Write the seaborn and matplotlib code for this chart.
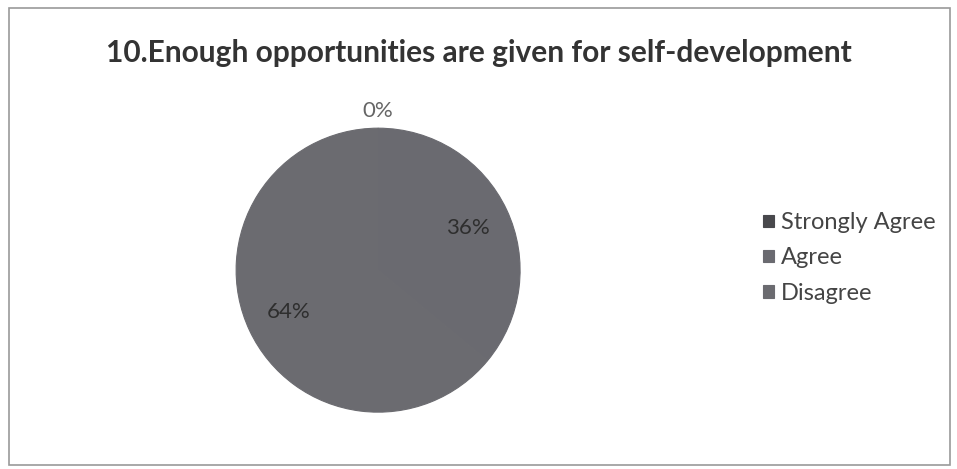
import matplotlib
matplotlib.use('Agg')
import matplotlib.pyplot as plt
import seaborn as sns
from matplotlib.patches import Rectangle
import numpy as np

# data
categories = ['Strongly Agree', 'Agree', 'Disagree']
percent = [0, 36, 64]
colors = ['#48484c', '#6a6a70', '#6b6b70']
title = '10.Enough opportunities are given for self-development'

sns.set_style('white')
plt.rcParams['font.family'] = ['Lato', 'DejaVu Sans']

fig = plt.figure(figsize=(9.57, 4.69), dpi=100)
fig.patch.set_facecolor('white')

# outer chart border
fig.patches.append(Rectangle((0.009, 0.008), 0.984, 0.975, transform=fig.transFigure,
                             fill=False, edgecolor='#9a9a9a', linewidth=1.2))

ax = fig.add_axes([0.2466, 0.1212, 0.297, 0.6055])
wedges, texts, autotexts = ax.pie(percent, colors=colors, startangle=90, counterclock=False,
                                  autopct='%.0f%%', pctdistance=0.7,
                                  wedgeprops=dict(linewidth=0.8),
                                  textprops=dict(fontsize=16, color='#2e2e2e'))
for w, c in zip(wedges, colors):
    w.set_edgecolor(c)
ax.set_xlim(-1, 1)
ax.set_ylim(-1, 1)
ax.set_aspect('equal')

# zero-size slice label sits outside the pie
for w, t, v in zip(wedges, autotexts, percent):
    if v == 0:
        ang = np.deg2rad((w.theta1 + w.theta2) / 2)
        t.set_position((1.12 * np.cos(ang), 1.12 * np.sin(ang)))
        t.set_color('#666666')

fig.text(0.5, 0.888, title, ha='center', va='center', fontsize=21.5,
         fontweight='bold', color='#333333')

fig.legend(wedges, categories, loc='center left', bbox_to_anchor=(0.775, 0.450),
           frameon=False, fontsize=17, labelcolor='#444444',
           handlelength=0.45, handleheight=0.45, handletextpad=0.3, labelspacing=0.6)

fig.savefig('out.png', dpi=100, facecolor='white')
